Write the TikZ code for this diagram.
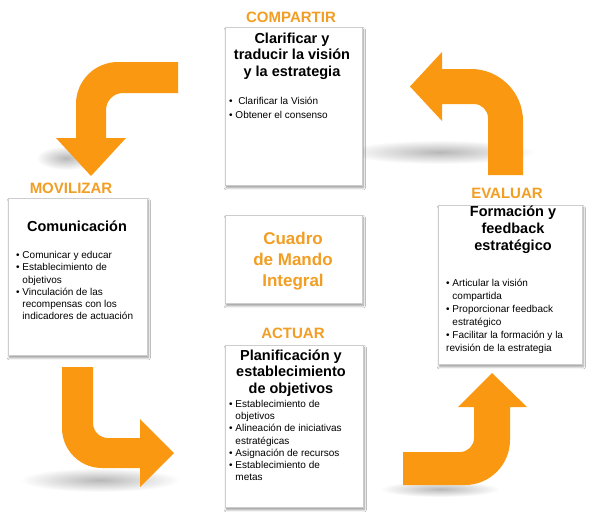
\documentclass[tikz,border=0pt]{standalone}
\usepackage{fontspec}
\setmainfont{Liberation Sans}
\usetikzlibrary{shadows.blur}
\definecolor{arr}{RGB}{250,152,18}
\definecolor{lab}{RGB}{242,158,36}
\definecolor{boxline}{RGB}{205,205,205}
\newcommand\ind{\hphantom{•\ }}
\tikzset{
  panel/.style={draw=boxline, line width=0.6pt, fill=white, anchor=north west,
    blur shadow={shadow xshift=1pt, shadow yshift=-2.5pt, shadow blur steps=6, shadow opacity=40}},
  arrowshape/.style={fill=arr, draw=none},
  phase/.style={text=lab, font=\fontsize{15}{18}\selectfont\bfseries, inner sep=0},
  ttl/.style={align=center, inner sep=0, font=\fontsize{14.5}{16.5}\selectfont\bfseries},
  bl/.style={align=left, inner sep=0, anchor=north west, font=\fontsize{10}{12.3}\selectfont},
  shadowblob/.style={inner color=black!28, outer color=white},
}
\begin{document}
\begin{tikzpicture}[x=1pt,y=-1pt]
\useasboundingbox (0,0) rectangle (598,512);
\fill[white] (0,0) rectangle (598,512);

% soft shadows of the arrows
\shade[shadowblob] (66,158) ellipse [x radius=30pt, y radius=12pt];
\shade[shadowblob] (440,152) ellipse [x radius=95pt, y radius=12pt];
\shade[shadowblob] (100,480) ellipse [x radius=80pt, y radius=12pt];
\shade[shadowblob] (440,489) ellipse [x radius=60pt, y radius=8pt];

% arrows
\fill[arrowshape] (178,62) -- (118,62) .. controls (94.8,62) and (76,80.8) .. (76,104)
  -- (76,138) -- (56,138) -- (91,176) -- (126,138) -- (106,138) -- (106,110)
  .. controls (106,100.6) and (113.6,93) .. (123,93) -- (178,93) -- cycle;
\fill[arrowshape] (523,175) -- (523,121) .. controls (523,92.3) and (499.7,69) .. (471,69)
  -- (442,69) -- (442,52) -- (410,86.5) -- (442,121) -- (442,104) -- (474,104)
  .. controls (481.7,104) and (488,110.3) .. (488,118) -- (488,175) -- cycle;
\fill[arrowshape] (62,367) -- (62,428) .. controls (62,450.1) and (79.9,468) .. (102,468)
  -- (140,468) -- (140,487) -- (174,453) -- (140,419) -- (140,438) -- (108,438)
  .. controls (99.7,438) and (93,431.3) .. (93,423) -- (93,367) -- cycle;
\fill[arrowshape] (403,452) -- (460,452) .. controls (467.7,452) and (474,445.7) .. (474,438)
  -- (474,407) -- (458,407) -- (492,373) -- (527,407) -- (510,407) -- (510,440)
  .. controls (510,464.8) and (489.8,485) .. (465,485) -- (403,485) -- cycle;

% boxes
\node[panel, minimum width=137pt, minimum height=158pt] (topbox) at (225,27) {};
\node[panel, minimum width=139pt, minimum height=157pt] (leftbox) at (8,198) {};
\node[panel, minimum width=137pt, minimum height=88pt] (midbox) at (225,215) {};
\node[panel, minimum width=144pt, minimum height=159pt] (rightbox) at (438,205) {};
\node[panel, minimum width=138pt, minimum height=162pt] (botbox) at (225,345) {};

% phase labels
\node[phase] (compartir) at (291,17) {COMPARTIR};
\node[phase] (movilizar) at (71,188) {MOVILIZAR};
\node[phase] (evaluar) at (507,193) {EVALUAR};
\node[phase] (actuar) at (293,333) {ACTUAR};

% titles
\node[ttl] (toptitle) at (292,56) {Clarificar y\\traducir la visión\\y la estrategia};
\node[ttl] (lefttitle) at (77,226) {Comunicación};
\node[ttl, font=\fontsize{14.5}{17}\selectfont\bfseries] (righttitle) at (513,230) {Formación y\\feedback\\estratégico};
\node[ttl] (bottitle) at (291,373) {Planificación y\\establecimiento\\de objetivos};
\node[ttl, text=lab, font=\fontsize{17}{21}\selectfont\bfseries] (center) at (293,261) {Cuadro\\de Mando\\Integral};

% bullet lists
\node[bl, font=\fontsize{10}{14}\selectfont] (topbul) at (229,97) {•\ \ Clarificar la Visión\\•\ Obtener el consenso};
\node[bl] (leftbul) at (16,251) {• Comunicar y educar\\• Establecimiento de\\\ind objetivos\\• Vinculación de las\\\ind recompensas con los\\\ind indicadores de actuación};
\node[bl, font=\fontsize{10}{13}\selectfont] (rightbul) at (446,279) {• Articular la visión\\\ind compartida\\• Proporcionar feedback\\\ind estratégico\\• Facilitar la formación y la\\revisión de la estrategia};
\node[bl, font=\fontsize{10}{12.2}\selectfont] (botbul) at (229,400) {• Establecimiento de\\\ind objetivos\\• Alineación de iniciativas\\\ind estratégicas\\• Asignación de recursos\\• Establecimiento de\\\ind metas};
\end{tikzpicture}
\end{document}
